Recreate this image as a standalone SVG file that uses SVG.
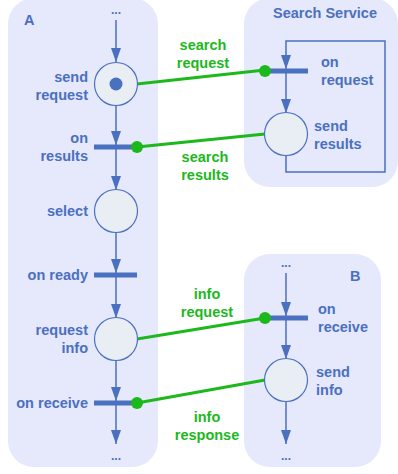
<svg xmlns="http://www.w3.org/2000/svg" width="398" height="474" viewBox="0 0 398 474">
<style>
.box{fill:#e6e8fb;stroke:none}
.ln{stroke:#4a70c0;stroke-width:1.5;fill:none}
.pl{fill:#e9edf4;stroke:#4a70c0;stroke-width:1.2}
.bar{stroke:#4a70c0;stroke-width:5}
.g{stroke:#1cb81c;stroke-width:3;fill:none}
.gd{fill:#1cb81c}
.t{font-family:"Liberation Sans",Arial,sans-serif;font-weight:bold;font-size:14.5px;fill:#4a70c0}
.tg{font-family:"Liberation Sans",Arial,sans-serif;font-weight:bold;font-size:14.5px;fill:#1cb81c}
.r{text-anchor:end}
.m{text-anchor:middle}
.dots{font-family:"Liberation Sans",Arial,sans-serif;font-weight:bold;font-size:12px;fill:#4a70c0;text-anchor:middle}
</style>
<defs>
<marker id="ah" markerWidth="14" markerHeight="10" refX="14" refY="5" viewBox="0 0 14 10" markerUnits="userSpaceOnUse" orient="auto">
<path d="M0,0 L14,5 L0,10 Z" fill="#4a70c0"/>
</marker>
</defs>
<g id="boxA"><rect class="box" x="8" y="-2" width="150" height="469" rx="26"/><text class="t" x="24" y="25" font-size="17">A</text></g>
<g id="boxS"><rect class="box" x="244" y="-2" width="154" height="189" rx="26"/><text class="t m" x="325" y="18">Search Service</text></g>
<g id="boxB"><rect class="box" x="244" y="254" width="137" height="213" rx="26"/><text class="t" x="350" y="281" font-size="17">B</text></g>
<g id="connectors">
<text class="dots" x="116" y="14">...</text>
<line class="ln" x1="116" y1="20" x2="116" y2="62" marker-end="url(#ah)"/>
<line class="ln" x1="116" y1="105" x2="116" y2="145" marker-end="url(#ah)"/>
<line class="ln" x1="116" y1="147" x2="116" y2="190" marker-end="url(#ah)"/>
<line class="ln" x1="116" y1="232" x2="116" y2="273" marker-end="url(#ah)"/>
<line class="ln" x1="116" y1="275" x2="116" y2="318" marker-end="url(#ah)"/>
<line class="ln" x1="116" y1="360" x2="116" y2="401" marker-end="url(#ah)"/>
<line class="ln" x1="116" y1="403" x2="116" y2="444" marker-end="url(#ah)"/>
<text class="dots" x="116" y="460">...</text>
<path class="ln" d="M286,155 V172 H385 V41 H286 V69" marker-end="url(#ah)"/>
<line class="ln" x1="286" y1="71" x2="286" y2="113" marker-end="url(#ah)"/>
<text class="dots" x="286" y="267">...</text>
<line class="ln" x1="286" y1="273" x2="286" y2="316" marker-end="url(#ah)"/>
<line class="ln" x1="286" y1="318" x2="286" y2="359" marker-end="url(#ah)"/>
<line class="ln" x1="286" y1="401" x2="286" y2="444" marker-end="url(#ah)"/>
<text class="dots" x="286" y="460">...</text>
<line class="g" x1="137" y1="84" x2="265" y2="70"/>
<line class="g" x1="137" y1="147" x2="265" y2="134"/>
<line class="g" x1="137" y1="339" x2="265" y2="318"/>
<line class="g" x1="137" y1="403" x2="265" y2="380"/>
<text class="tg m" x="203" y="50">search</text><text class="tg m" x="203" y="68">request</text>
<text class="tg m" x="205" y="162">search</text><text class="tg m" x="205" y="180">results</text>
<text class="tg m" x="207" y="299">info</text><text class="tg m" x="207" y="317">request</text>
<text class="tg m" x="207" y="422">info</text><text class="tg m" x="207" y="440">response</text>
</g>
<g id="sendRequest"><circle class="pl" cx="116" cy="84" r="21.5"/><circle cx="116" cy="84" r="6.5" fill="#4a70c0"/><text class="t r" x="88" y="82">send</text><text class="t r" x="88" y="100">request</text></g>
<g id="onResults"><line class="bar" x1="94" y1="147" x2="137" y2="147"/><circle class="gd" cx="137" cy="147" r="6"/><text class="t r" x="88" y="143">on</text><text class="t r" x="88" y="161">results</text></g>
<g id="select"><circle class="pl" cx="116" cy="211" r="21.5"/><text class="t r" x="88" y="216">select</text></g>
<g id="onReady"><line class="bar" x1="94" y1="275" x2="137" y2="275"/><text class="t r" x="88" y="280">on ready</text></g>
<g id="requestInfo"><circle class="pl" cx="116" cy="339" r="21.5"/><text class="t r" x="88" y="335">request</text><text class="t r" x="88" y="353">info</text></g>
<g id="onReceiveA"><line class="bar" x1="94" y1="403" x2="137" y2="403"/><circle class="gd" cx="137" cy="403" r="6"/><text class="t r" x="88" y="408">on receive</text></g>
<g id="onRequest"><line class="bar" x1="265" y1="71" x2="308" y2="71"/><circle class="gd" cx="265" cy="71" r="6"/><text class="t" x="321" y="67">on</text><text class="t" x="321" y="85">request</text></g>
<g id="sendResults"><circle class="pl" cx="286" cy="134" r="21.5"/><text class="t" x="314" y="131">send</text><text class="t" x="314" y="149">results</text></g>
<g id="onReceiveB"><line class="bar" x1="265" y1="318" x2="308" y2="318"/><circle class="gd" cx="265" cy="318" r="6"/><text class="t" x="318" y="314">on</text><text class="t" x="318" y="332">receive</text></g>
<g id="sendInfo"><circle class="pl" cx="286" cy="380" r="21.5"/><text class="t" x="316" y="377">send</text><text class="t" x="316" y="395">info</text></g>
</svg>
